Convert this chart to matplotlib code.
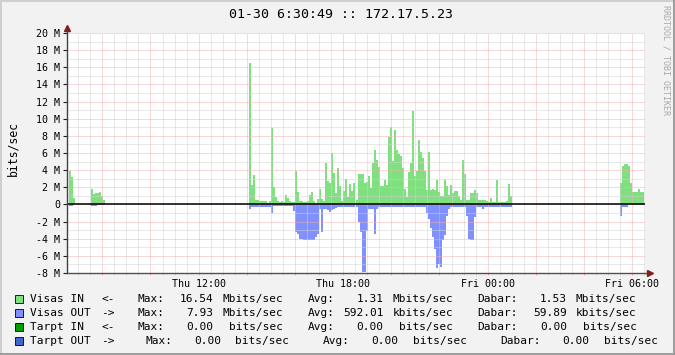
import matplotlib.pyplot as plt
import numpy as np
from matplotlib.patches import Rectangle

# Time axis: hours since Thu 00:00, one sample every 5 minutes over 24 h
start_hour = 6 + 30 / 60 + 49 / 3600
n_samples = 288
step_hours = 5 / 60

# Runs of known samples (first sample index of each run); the rest is unknown
run_starts = [1, 11, 91, 276]

# Visas IN, Mbits/sec
in_run_1 = [3.9, 3.2, 0.8]
in_run_2 = [0.2, 1.75, 1.25, 1.3, 1.3, 1.45, 0.95, 0.5]
in_run_3 = [
    16.54, 2.3, 3.4, 0.5, 0.5, 0.35, 0.35, 0.35, 0.35, 0.2,
    0.4, 8.9, 2.0, 0.85, 0.4, 0.3, 0.45, 0.3, 1.05, 0.75,
    0.4, 0.25, 0.25, 3.9, 1.5, 0.4, 0.4, 0.3, 0.25, 0.45,
    1.05, 1.4, 0.45, 0.2, 0.6, 1.75, 0.6, 0.45, 4.8, 2.7,
    2.5, 6.0, 3.7, 1.3, 4.2, 2.2, 0.35, 1.6, 3.0, 0.85,
    2.4, 1.55, 2.5, 0.5, 3.6, 3.6, 3.55, 2.5, 2.6, 3.3,
    1.95, 4.85, 6.3, 5.2, 4.4, 2.2, 2.2, 2.8, 2.3, 7.9,
    9.05, 5.1, 8.7, 6.3, 5.9, 5.7, 4.2, 1.85, 0.85, 3.8,
    4.85, 10.9, 3.3, 3.9, 7.5, 6.1, 5.4, 3.9, 1.65, 6.1,
    1.65, 1.8, 1.65, 2.9, 1.5, 0.95, 0.95, 2.9, 2.2, 1.15,
    2.3, 1.3, 1.6, 1.6, 0.95, 0.55, 5.15, 3.6, 0.55, 0.5,
    1.3, 1.3, 1.65, 1.3, 0.55, 0.55, 0.5, 0.5, 0.45, 0.3,
    0.7, 0.25, 0.25, 2.8, 0.3, 0.3, 0.3, 0.3, 0.4, 2.4,
    0.95,
]
in_run_4 = [2.55, 4.45, 4.7, 4.7, 4.45, 2.5, 1.5, 1.5, 1.5, 1.75, 1.5, 1.5]

# Visas OUT, Mbits/sec (drawn negative)
out_run_1 = [-0.15, -0.15, -0.05]
out_run_2 = [-0.05, -0.15, -0.15, -0.15, -0.05, -0.05, -0.05, -0.05]
out_run_3 = [
    -0.5, -0.25, -0.25, -0.25, -0.25, -0.25, -0.25, -0.25, -0.25, -0.25,
    -0.25, -1.0, -0.2, -0.2, -0.2, -0.2, -0.2, -0.2, -0.2, -0.2,
    -0.2, -0.2, -0.8, -3.2, -3.5, -4.0, -4.0, -4.2, -4.2, -4.2,
    -4.2, -4.2, -4.1, -3.75, -3.5, -0.55, -3.2, -0.5, -0.5, -0.7,
    -0.9, -0.6, -0.5, -0.4, -0.25, -0.25, -0.25, -0.25, -0.25, -0.25,
    -0.25, -0.25, -0.25, -0.25, -2.1, -3.2, -7.93, -7.9, -3.1, -0.5,
    -0.5, -0.5, -3.4, -0.5, -0.3, -0.3, -0.3, -0.3, -0.3, -0.3,
    -0.3, -0.3, -0.3, -0.3, -0.3, -0.3, -0.3, -0.3, -0.3, -0.3,
    -0.3, -0.3, -0.3, -0.3, -0.3, -0.3, -0.3, -0.3, -1.0, -1.7,
    -2.7, -3.8, -5.2, -7.4, -6.95, -7.3, -4.2, -3.6, -1.4, -0.5,
    -0.3, -0.3, -0.3, -0.3, -0.3, -0.3, -0.3, -0.3, -1.4, -4.0,
    -4.2, -4.2, -1.5, -0.3, -0.3, -0.3, -0.5, -0.25, -0.25, -0.25,
    -0.25, -0.25, -0.25, -0.25, -0.25, -0.25, -0.25, -0.25, -0.25, -0.25,
    -0.25,
]
out_run_4 = [-1.3, -0.3, -0.3, -0.3, -0.05, -0.05, -0.05, -0.05, -0.05, -0.05, -0.05, -0.05]

# Axis ticks
x_label_hours = [12, 18, 24, 30]
x_labels = ["Thu 12:00", "Thu 18:00", "Fri 00:00", "Fri 06:00"]
y_ticks = [-8, -6, -4, -2, 0, 2, 4, 6, 8, 10, 12, 14, 16, 18, 20]

# Legend table
legend_names = ["Visas IN", "Visas OUT", "Tarpt IN", "Tarpt OUT"]
legend_arrows = ["<-", "->", "<-", "->"]
legend_colors = ["#80e080", "#8090ff", "#00a000", "#4466cc"]
legend_max = ["16.54", "7.93", "0.00", "0.00"]
legend_max_unit = ["Mbits/sec", "Mbits/sec", "bits/sec", "bits/sec"]
legend_avg = ["1.31", "592.01", "0.00", "0.00"]
legend_avg_unit = ["Mbits/sec", "kbits/sec", "bits/sec", "bits/sec"]
legend_now = ["1.53", "59.89", "0.00", "0.00"]
legend_now_unit = ["Mbits/sec", "kbits/sec", "bits/sec", "bits/sec"]


def build(runs):
    vals = np.full(n_samples, np.nan)
    for s, run in zip(run_starts, runs):
        vals[s:s + len(run)] = run
    return vals


visas_in = build([in_run_1, in_run_2, in_run_3, in_run_4])
visas_out = build([out_run_1, out_run_2, out_run_3, out_run_4])
t = start_hour + np.arange(n_samples) * step_hours

W, H = 675, 355
fig = plt.figure(figsize=(W / 100, H / 100), dpi=100)
fig.patch.set_facecolor("#f2f2f2")

# shaded frame like rrdtool
fig.add_artist(Rectangle((0, 0), 2 / W, 1, transform=fig.transFigure, color="#cfcfcf", lw=0))
fig.add_artist(Rectangle((0, 1 - 2 / H), 1, 2 / H, transform=fig.transFigure, color="#cfcfcf", lw=0))
fig.add_artist(Rectangle((1 - 2 / W, 0), 2 / W, 1, transform=fig.transFigure, color="#9e9e9e", lw=0))
fig.add_artist(Rectangle((0, 0), 1, 2 / H, transform=fig.transFigure, color="#9e9e9e", lw=0))

left, right, top, bottom = 66.5, 644.5, 33, 273
ax = fig.add_axes([left / W, 1 - bottom / H, (right - left) / W, (bottom - top) / H])
ax.set_facecolor("white")

m = ~np.isnan(visas_in)
ax.bar(t[m], visas_in[m], width=step_hours, align="edge", color="#80e080", lw=0, zorder=2)
m = ~np.isnan(visas_out)
ax.bar(t[m], visas_out[m], width=step_hours, align="edge", color="#8090ff", lw=0, zorder=2)

ax.set_xlim(start_hour, start_hour + 24)
ax.set_ylim(-8, 20)

# grid
ax.set_xticks(np.arange(8, 31, 2))
ax.set_xticks(np.arange(7, 31, 0.5), minor=True)
ax.set_xticklabels([x_labels[x_label_hours.index(h)] if h in x_label_hours else ""
                    for h in range(8, 31, 2)])
ax.set_yticks(y_ticks)
ax.set_yticks(np.arange(-8, 21, 1), minor=True)
ax.set_yticklabels([("%d M" % v) if v != 0 else "0" for v in y_ticks])
ax.grid(which="minor", color="#d2d2d2", lw=0.72, linestyle=(0, (1, 1)), zorder=3)
ax.grid(which="major", color="#f0b0b0", lw=0.72, linestyle=(0, (1, 1)), zorder=3)
ax.set_axisbelow(False)

for s in ax.spines.values():
    s.set_visible(False)
ax.tick_params(axis="y", which="major", length=3, width=0.8, color="#1f1f1f", pad=1.5,
               labelsize=7.2, labelfontfamily="DejaVu Sans Mono")
ax.tick_params(axis="y", which="minor", length=0)
ax.tick_params(axis="x", which="major", length=1.5, width=0.72, color="#f0b0b0", pad=3,
               labelsize=7.2, labelfontfamily="DejaVu Sans Mono")
ax.tick_params(axis="x", which="minor", length=1.5, width=0.72, color="#d2d2d2")

ax.axhline(0, color="black", lw=1.1, zorder=4)

# axis lines with arrows
ax.plot([0, 0], [0, 1 + 5 / 240], transform=ax.transAxes, color="#404040", lw=1, clip_on=False, zorder=5)
ax.plot([0], [1 + 5 / 240], marker="^", markersize=5, color="#801f1f", transform=ax.transAxes,
        clip_on=False, zorder=6)
ax.plot([0, 1 + 4 / 578], [0, 0], transform=ax.transAxes, color="#505050", lw=1, clip_on=False, zorder=5)
ax.plot([1 + 5 / 578], [0], marker=">", markersize=5, color="#801f1f", transform=ax.transAxes,
        clip_on=False, zorder=6)

mono = "DejaVu Sans Mono"
fig.text(341 / W, 1 - 14 / H, "01-30 6:30:49 :: 172.17.5.23", ha="center", va="center",
         fontsize=9.5, family=mono)
fig.text(13 / W, 1 - 149 / H, "bits/sec", rotation=90, ha="center", va="center",
         fontsize=8.3, family=mono)
fig.text(666 / W, 1 - 5 / H, "RRDTOOL / TOBI OETIKER", rotation=270, ha="center", va="top",
         fontsize=6, family=mono, color="#a8a8a8")

# legend table
row_y = [299.3, 313.3, 327.3, 341.3]
for r in range(4):
    y = 1 - row_y[r] / H
    fig.add_artist(Rectangle((15 / W, y - 4 / H), 8 / W, 8 / H, transform=fig.transFigure,
                             facecolor=legend_colors[r], edgecolor="black", lw=0.6))
    cols = [(30, legend_names[r], "left"), (101, legend_arrows[r], "left")]
    if r < 3:
        cols += [(138, "Max:", "left"), (213, legend_max[r], "right"), (283, legend_max_unit[r], "right"),
                 (308, "Avg:", "left"), (383.5, legend_avg[r], "right"), (453, legend_avg_unit[r], "right"),
                 (477.6, "Dabar:", "left"), (567, legend_now[r], "right"), (636.5, legend_now_unit[r], "right")]
    else:
        cols += [(145, "Max:", "left"), (221, legend_max[r], "right"), (289.5, legend_max_unit[r], "right"),
                 (322.4, "Avg:", "left"), (398.5, legend_avg[r], "right"), (466.6, legend_avg_unit[r], "right"),
                 (500, "Dabar:", "left"), (589.3, legend_now[r], "right"), (657.6, legend_now_unit[r], "right")]
    for x, txt, ha in cols:
        fig.text(x / W, y, txt, ha=ha, va="center", fontsize=8, family=mono)

fig.savefig("out.png", dpi=100, facecolor=fig.get_facecolor())
